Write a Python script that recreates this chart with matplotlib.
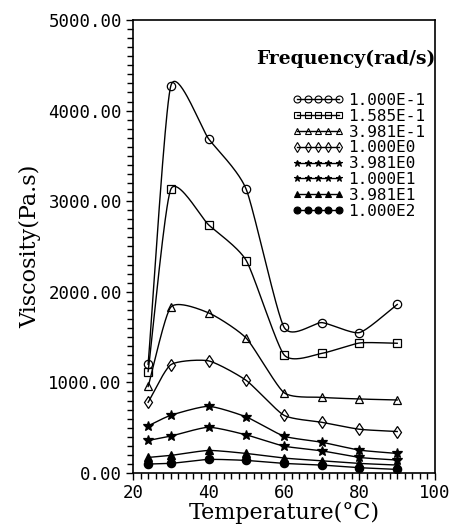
import numpy as np
import matplotlib
matplotlib.use("Agg")
import matplotlib.pyplot as plt
from matplotlib.ticker import MultipleLocator, FormatStrFormatter

# temperatures (C)
temps = [24, 30, 40, 50, 60, 70, 80, 90]

# viscosity (Pa.s) for each frequency
freq_labels = ["1.000E-1", "1.585E-1", "3.981E-1", "1.000E0",
               "3.981E0", "1.000E1", "3.981E1", "1.000E2"]
v_f1 = [1200, 4270, 3690, 3130, 1610, 1660, 1550, 1860]
v_f2 = [1120, 3130, 2740, 2345, 1305, 1320, 1435, 1432]
v_f3 = [955, 1830, 1768, 1488, 887, 835, 817, 806]
v_f4 = [780, 1195, 1238, 1022, 637, 560, 483, 458]
v_f5 = [520, 637, 736, 619, 407, 340, 253, 216]
v_f6 = [359, 407, 505, 421, 297, 245, 172, 143]
v_f7 = [172, 194, 249, 216, 165, 135, 106, 88]
v_f8 = [99, 106, 150, 139, 106, 88, 59, 40]
series = [v_f1, v_f2, v_f3, v_f4, v_f5, v_f6, v_f7, v_f8]

markers = [("o", "none"), ("s", "none"), ("^", "none"), ("d", "none"),
           ("*", "k"), ("*", "k"), ("^", "k"), ("o", "k")]


def smooth(x, y, n=40, tens=0.6):
    ''' cardinal spline through the points, tangents scaled by tens '''
    x = np.asarray(x, float); y = np.asarray(y, float)
    k = len(x)
    mx = np.zeros(k); my = np.zeros(k)
    for i in range(k):
        a = max(i-1, 0); b = min(i+1, k-1)
        mx[i] = tens*(x[b]-x[a]) / (b-a)
        my[i] = tens*(y[b]-y[a]) / (b-a)
    xs = []; ys = []
    t = np.linspace(0, 1, n)
    h00 = 2*t**3 - 3*t**2 + 1; h10 = t**3 - 2*t**2 + t
    h01 = -2*t**3 + 3*t**2; h11 = t**3 - t**2
    for i in range(k-1):
        xs.append(h00*x[i] + h10*mx[i] + h01*x[i+1] + h11*mx[i+1])
        ys.append(h00*y[i] + h10*my[i] + h01*y[i+1] + h11*my[i+1])
    return np.concatenate(xs), np.concatenate(ys)


fig = plt.figure(figsize=(4.5, 5.25), dpi=100)
ax = fig.add_axes([0.2956, 0.099, 0.671, 0.863])

handles = []
for vals, (mk, fc), lab in zip(series, markers, freq_labels):
    xs, ys = smooth(temps, vals)
    ax.plot(xs, ys, color="k", lw=1.0)
    ms = 7 if mk == "*" else 6
    ax.plot(temps, vals, linestyle="none", marker=mk, ms=ms, mfc=fc, mec="k", mew=0.9)
    h, = ax.plot([], [], color="k", lw=1.0, marker=mk, ms=5, mfc=fc, mec="k", mew=0.8)
    handles.append(h)

ax.set_xlim(20, 100)
ax.set_ylim(0, 5000)
ax.xaxis.set_major_locator(MultipleLocator(20))
ax.xaxis.set_minor_locator(MultipleLocator(2))
ax.yaxis.set_major_locator(MultipleLocator(1000))
ax.yaxis.set_minor_locator(MultipleLocator(100))
ax.yaxis.set_major_formatter(FormatStrFormatter("%.2f"))
ax.tick_params(which="both", direction="out", top=False, right=False, width=1.0)
ax.tick_params(which="major", length=5, labelsize=12.5, pad=3)
ax.tick_params(which="minor", length=4)
for lbl in ax.get_xticklabels() + ax.get_yticklabels():
    lbl.set_family("DejaVu Sans Mono")
for sp in ax.spines.values():
    sp.set_linewidth(1.2)

ax.set_xlabel("Temperature(°C)", family="DejaVu Serif", fontsize=16, labelpad=0)
ax.set_ylabel("Viscosity(Pa.s)", family="DejaVu Serif", fontsize=16, labelpad=5)

ax.text(1.0, 0.915, "Frequency(rad/s)", transform=ax.transAxes, ha="right", va="center",
        family="DejaVu Serif", fontweight="bold", fontsize=13.5)
leg = ax.legend(handles, freq_labels, numpoints=5, handlelength=3.2, handletextpad=0.3,
                loc="upper right", bbox_to_anchor=(1.0, 0.86), frameon=False,
                labelspacing=0.05, borderaxespad=0.2,
                prop={"family": "DejaVu Sans Mono", "size": 11.5})

fig.savefig("out.png", dpi=100)
